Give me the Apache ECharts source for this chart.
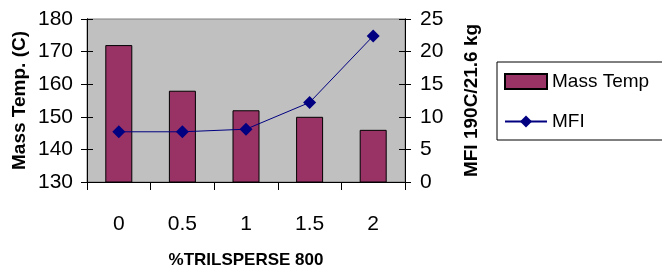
<!DOCTYPE html>
<html><head><meta charset="utf-8">
<script src="https://cdn.jsdelivr.net/npm/echarts@6/dist/echarts.min.js"></script>
<style>html,body{margin:0;padding:0;background:#fff}#c{width:662px;height:270px}</style>
</head><body><div id="c"></div>
<script>
var categories = ['0', '0.5', '1', '1.5', '2'];
var massTemp = [172, 158, 152, 150, 146];
var mfi = [7.7, 7.7, 8.1, 12.2, 22.4];
var leftTicks = [130, 140, 150, 160, 170, 180];
var rightTicks = [0, 5, 10, 15, 20, 25];

var F = 'Liberation Sans, Arial, sans-serif';
var chart = echarts.init(document.getElementById('c'));
var yBase = function (pos, min, max, interval, name, withLabel, inside) {
  return {
    type: 'value', position: pos, min: min, max: max, interval: interval,
    name: withLabel ? name : '', nameLocation: 'middle', nameRotate: 90,
    nameGap: pos === 'left' ? 58 : 57,
    nameTextStyle: { fontFamily: F, fontWeight: 'bold', fontSize: 19, color: '#000' },
    axisLine: { show: true, lineStyle: { color: '#000', width: 1 } },
    axisTick: { show: true, inside: inside, length: 6, lineStyle: { color: '#000' } },
    axisLabel: { show: withLabel, fontFamily: F, fontSize: 21, color: '#000', margin: pos === 'left' ? 14 : 15 },
    splitLine: { show: false }
  };
};
chart.setOption({
  animation: false,
  backgroundColor: '#fff',
  grid: { left: 87, right: 257, top: 19, bottom: 88, outerBoundsMode: 'none', containLabel: false, show: true, backgroundColor: '#c0c0c0', borderColor: '#808080', borderWidth: 1 },
  legend: {
    left: 497, top: 62, orient: 'vertical',
    borderColor: '#000', borderWidth: 1, padding: [10, 30, 9, 7],
    itemWidth: 42, itemHeight: 15, itemGap: 21,
    textStyle: { fontFamily: F, fontSize: 19, color: '#000' },
    data: [{ name: 'Mass Temp', icon: 'rect' }, { name: 'MFI' }]
  },
  xAxis: {
    type: 'category', data: categories,
    name: '%TRILSPERSE 800', nameLocation: 'middle', nameGap: 70,
    nameTextStyle: { fontFamily: F, fontWeight: 'bold', fontSize: 17, color: '#000' },
    axisLine: { lineStyle: { color: '#000' } },
    axisTick: { show: true, length: 8, lineStyle: { color: '#000' } },
    axisLabel: { fontFamily: F, fontSize: 21, color: '#000', margin: 32 }
  },
  yAxis: [
    yBase('left', leftTicks[0], leftTicks[leftTicks.length - 1], 10, 'Mass Temp. (C)', true, false),
    yBase('right', rightTicks[0], rightTicks[rightTicks.length - 1], 5, 'MFI 190C/21.6 kg', true, false),
    yBase('left', leftTicks[0], leftTicks[leftTicks.length - 1], 10, '', false, true),
    yBase('right', rightTicks[0], rightTicks[rightTicks.length - 1], 5, '', false, true)
  ],
  series: [
    {
      name: 'Mass Temp', type: 'bar', data: massTemp, yAxisIndex: 0, barWidth: 27,
      itemStyle: { color: '#993366', borderColor: '#000', borderWidth: 1 }
    },
    {
      name: 'MFI', type: 'line', data: mfi, yAxisIndex: 1,
      symbol: 'diamond', symbolSize: 13,
      lineStyle: { color: '#000080', width: 1 },
      itemStyle: { color: '#000080' }
    }
  ]
});
</script></body></html>
